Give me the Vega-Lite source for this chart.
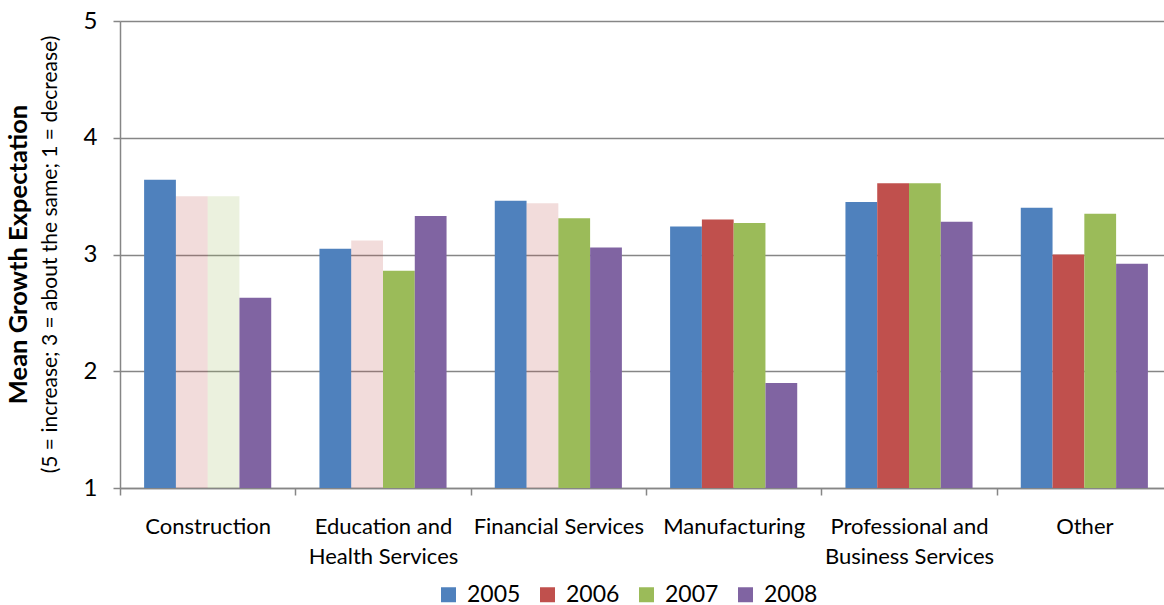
{
  "$schema": "https://vega.github.io/schema/vega-lite/v6.json",
  "width": 1044,
  "height": 467,
  "autosize": "none",
  "padding": {"left": 120, "top": 21, "right": 0, "bottom": 117},
  "background": "white",
  "config": {"view": {"stroke": null}, "font": "Lato"},
  "title": {
    "text": "Mean Growth Expectation",
    "subtitle": "(5 = increase; 3 = about the same; 1 = decrease)",
    "orient": "left",
    "anchor": "middle",
    "frame": "group",
    "font": "Lato",
    "fontSize": 25.5,
    "fontWeight": "bold",
    "color": "#000000",
    "subtitleFont": "Lato",
    "subtitleFontSize": 21,
    "subtitleColor": "#000000",
    "subtitlePadding": 8,
    "offset": 22
  },
  "data": {
    "values": [
      {"sector": "Construction", "year": "2005", "value": 3.64, "lowSample": false},
      {"sector": "Construction", "year": "2006", "value": 3.50, "lowSample": true},
      {"sector": "Construction", "year": "2007", "value": 3.50, "lowSample": true},
      {"sector": "Construction", "year": "2008", "value": 2.63, "lowSample": false},
      {"sector": "Education and Health Services", "year": "2005", "value": 3.05, "lowSample": false},
      {"sector": "Education and Health Services", "year": "2006", "value": 3.12, "lowSample": true},
      {"sector": "Education and Health Services", "year": "2007", "value": 2.86, "lowSample": false},
      {"sector": "Education and Health Services", "year": "2008", "value": 3.33, "lowSample": false},
      {"sector": "Financial Services", "year": "2005", "value": 3.46, "lowSample": false},
      {"sector": "Financial Services", "year": "2006", "value": 3.44, "lowSample": true},
      {"sector": "Financial Services", "year": "2007", "value": 3.31, "lowSample": false},
      {"sector": "Financial Services", "year": "2008", "value": 3.06, "lowSample": false},
      {"sector": "Manufacturing", "year": "2005", "value": 3.24, "lowSample": false},
      {"sector": "Manufacturing", "year": "2006", "value": 3.30, "lowSample": false},
      {"sector": "Manufacturing", "year": "2007", "value": 3.27, "lowSample": false},
      {"sector": "Manufacturing", "year": "2008", "value": 1.90, "lowSample": false},
      {"sector": "Professional and Business Services", "year": "2005", "value": 3.45, "lowSample": false},
      {"sector": "Professional and Business Services", "year": "2006", "value": 3.61, "lowSample": false},
      {"sector": "Professional and Business Services", "year": "2007", "value": 3.61, "lowSample": false},
      {"sector": "Professional and Business Services", "year": "2008", "value": 3.28, "lowSample": false},
      {"sector": "Other", "year": "2005", "value": 3.40, "lowSample": false},
      {"sector": "Other", "year": "2006", "value": 3.00, "lowSample": false},
      {"sector": "Other", "year": "2007", "value": 3.35, "lowSample": false},
      {"sector": "Other", "year": "2008", "value": 2.92, "lowSample": false}
    ]
  },
  "mark": {"type": "bar"},
  "encoding": {
    "x": {
      "field": "sector",
      "type": "nominal",
      "sort": ["Construction", "Education and Health Services", "Financial Services", "Manufacturing", "Professional and Business Services", "Other"],
      "scale": {"range": [0, 1052], "paddingInner": 0.275, "paddingOuter": 0.1375},
      "axis": {
        "title": null,
        "labelAngle": 0,
        "labelExpr": "datum.label == 'Education and Health Services' ? ['Education and', 'Health Services'] : datum.label == 'Professional and Business Services' ? ['Professional and', 'Business Services'] : datum.label",
        "labelFont": "Lato",
        "labelFontSize": 22,
        "labelColor": "#000000",
        "labelLineHeight": 30,
        "labelPadding": 21,
        "labelLimit": 0,
        "bandPosition": 0.5,
        "tickOffset": -87.67,
        "labelOffset": 87.67,
        "tickSize": 7,
        "tickColor": "#868686",
        "tickWidth": 1.5,
        "domainColor": "#868686",
        "domainWidth": 1.5,
        "grid": false
      }
    },
    "xOffset": {
      "field": "year",
      "type": "nominal",
      "scale": {"paddingInner": 0, "paddingOuter": 0}
    },
    "y": {
      "field": "value",
      "type": "quantitative",
      "scale": {"domain": [1, 5], "zero": false, "nice": false},
      "axis": {
        "title": null,
        "values": [1, 2, 3, 4, 5],
        "format": "d",
        "grid": true,
        "gridColor": "#868686",
        "gridWidth": 1.5,
        "domainColor": "#868686",
        "domainWidth": 1.5,
        "tickColor": "#868686",
        "tickWidth": 1.5,
        "tickSize": 7,
        "labelFont": "Lato",
        "labelFontSize": 24,
        "labelPadding": 16,
        "labelColor": "#000000"
      }
    },
    "y2": {"datum": 1},
    "color": {
      "field": "year",
      "type": "nominal",
      "scale": {"domain": ["2005", "2006", "2007", "2008"], "range": ["#4F81BD", "#C0504D", "#9BBB59", "#8064A2"]},
      "legend": {
        "title": null,
        "orient": "none",
        "legendX": 317,
        "legendY": 562,
        "direction": "horizontal",
        "symbolType": "square",
        "symbolSize": 225,
        "symbolStrokeWidth": 0,
        "symbolOpacity": 1,
        "labelFont": "Lato",
        "labelFontSize": 23,
        "labelColor": "#000000",
        "labelOffset": 7,
        "columnPadding": 15
      }
    },
    "opacity": {"condition": {"test": "datum.lowSample", "value": 0.2}, "value": 1}
  }
}
